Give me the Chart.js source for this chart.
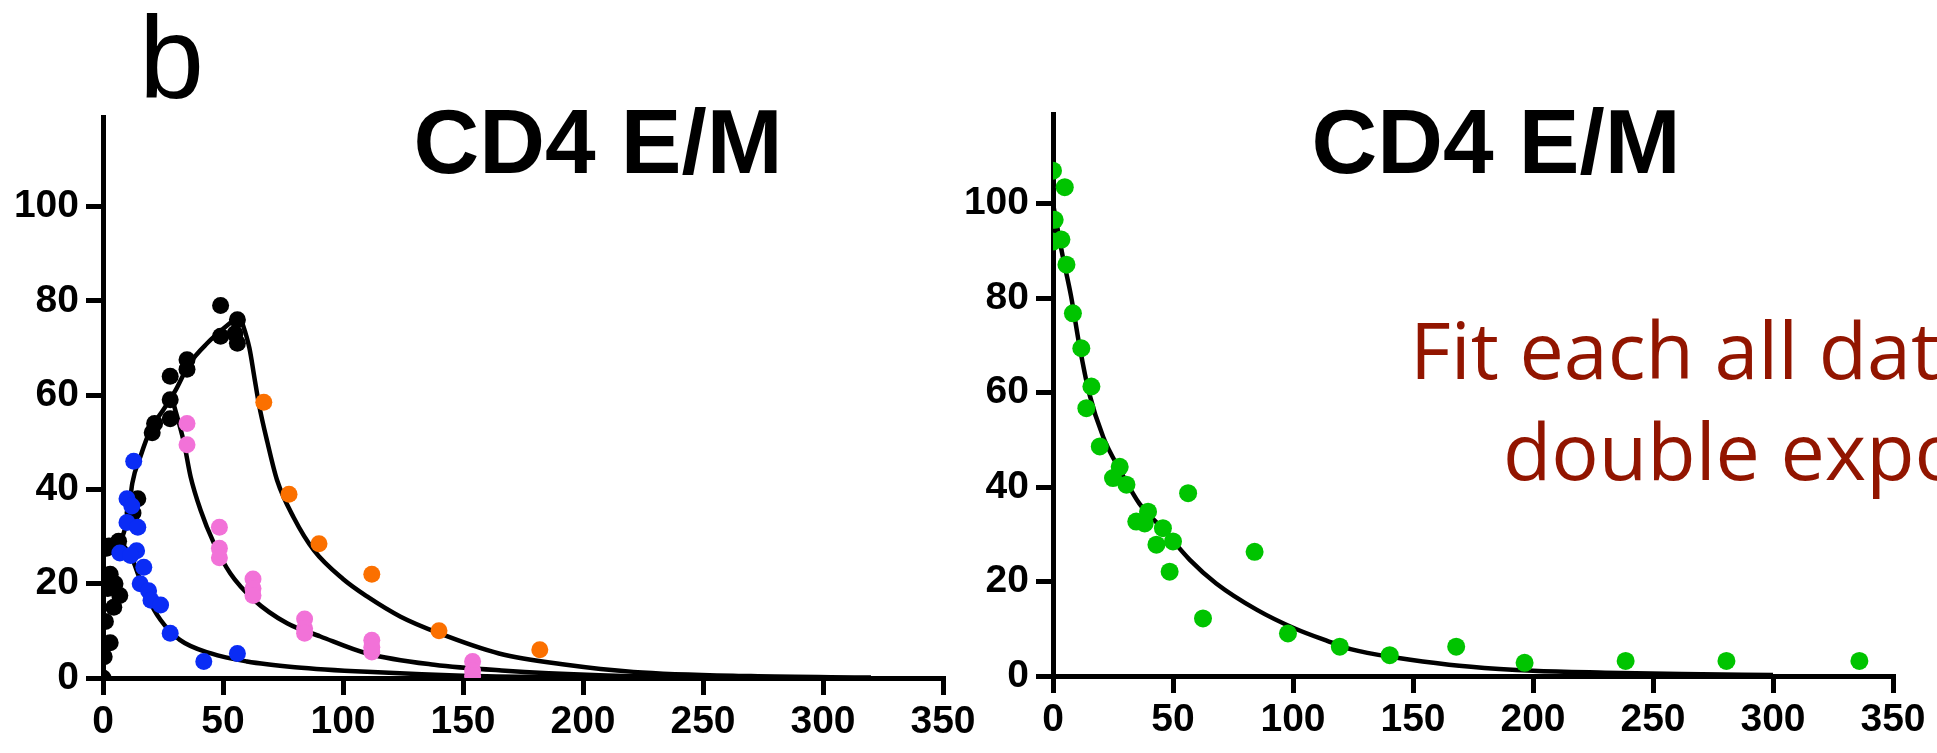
<!DOCTYPE html>
<html>
<head>
<meta charset="utf-8">
<script src="https://cdn.jsdelivr.net/npm/chart.js@4.4.1/dist/chart.umd.min.js"></script>
<style>
  html, body { margin: 0; padding: 0; background: #fff; overflow: hidden; }
  #wrap { position: relative; width: 1937px; height: 753px; }
  canvas { position: absolute; top: 0; }
  #left { left: 0; }
  #right { left: 940px; }
</style>
</head>
<body>
<div id="wrap">
  <canvas id="left" width="1000" height="753"></canvas>
  <canvas id="right" width="997" height="753"></canvas>
</div>
<script>
// ticks
const xTicks = [0, 50, 100, 150, 200, 250, 300, 350];
const yTicks = [0, 20, 40, 60, 80, 100];

// panel 1 : points [x, y]
const blackPts = [[0,0],[0.5,4.5],[3,7.5],[1,12],[4.5,15],[7,17.5],[5,20],[3,22],[2,19],[1.5,27.5],[6.5,29],[2.5,28],
  [12.5,35],[14.5,38],[20.5,52],[21.5,54],[28,55],[28,59],[28,64],[35,65.5],[35,67.5],[49,72.5],[49,79],[56,71],[56,76],[55,73]];
const bluePts = [[12.8,46],[10,38],[12,36.5],[10,33],[14.5,32],[7,26.5],[14,27],[11.5,26],[17,23.5],[15.5,20],[19,18.5],
  [20,16.5],[24,15.5],[28,9.5],[42,3.5],[56,5.2]];
const pinkPts = [[35,54],[35,49.5],[48.5,32],[48.5,27.5],[48.5,25.5],[62.5,21],[62.5,19],[62.5,17.5],[84,12.5],[84,10.5],
  [84,9.5],[112,8],[112,6.5],[112,5.5],[154,3.5],[154,1.5],[154,0.5]];
const orangePts = [[67,58.5],[77.5,39],[90,28.5],[112,22],[140,10],[182,6]];

// panel 1 : fitted curves
const blackFit = [[0,27.5],[8,30],[10.8,35.7],[12.2,41.3],[15.6,47],[19.8,52.7],[25.3,57],[30.2,61],[35.8,66.5],[43.4,71],[57,77]];
const orangeFit = [[57,77],[61,70],[63,64],[65,58],[68.5,50],[72.5,42],[79.5,34],[88,27],[100,21],[110,17.3],[124,13],
  [140,9.5],[165,5.2],[193,2.8],[221,1.3],[270,0.4],[320,0.1]];
const pinkFit = [[29.5,58],[33.7,50],[36.5,42.7],[40.6,35.7],[46.2,28.6],[53,22.2],[62.8,16.6],[76.7,11.6],[90.6,8.8],
  [110,5.2],[138,2.8],[166,1.6],[207,0.6],[260,0.15]];
const blueFit = [[8,28.5],[12,25.5],[15,21.5],[18.4,17.3],[24,12.3],[32,8.1],[45,5.2],[60,3.5],[80,2.3],[110,1.3],[150,0.5],[200,0.15]];

// panel 2
const greenPts = [[0,107],[4.9,103.5],[0.7,96.6],[0,92],[3.5,92.4],[5.6,87.1],[8.3,76.8],[11.8,69.4],[16,61.3],[13.9,56.7],
  [19.5,48.6],[27.8,44.3],[25,41.9],[30.6,40.5],[56.3,38.7],[39.6,34.8],[34.7,32.7],[38.2,32.3],[45.8,31.3],[50,28.5],
  [43.1,27.8],[48.6,22.1],[84,26.3],[62.5,12.2],[97.9,9],[119.5,6.2],[140.3,4.4],[168,6.2],[196.5,2.8],[238.6,3.2],
  [280.6,3.2],[336,3.2]];
const greenFit = [[0,100],[4,89],[7.5,80.5],[11,70],[15,60],[21,50.5],[28,43.5],[36,36.5],[46,31],[57,24.6],[68,19.6],
  [85,14],[101,10],[115,7.3],[124,5.7],[144,3.8],[165,2.4],[186,1.5],[200,1.1],[230,0.7],[262,0.4],[300,0.2]];

const panelTitle = "CD4 E/M";
const panelLetter = "b";
const noteLines = ["Fit each all data", "double exponential"];

const toXY = arr => arr.map(p => ({ x: p[0], y: p[1] }));
const TICK_FONT = { family: "'Liberation Sans', Arial, sans-serif", size: 39, weight: "bold" };

function pts(data, color, r) {
  return { type: "scatter", data: toXY(data), backgroundColor: color, borderColor: color,
    pointRadius: r, pointHoverRadius: r, borderWidth: 0, showLine: false };
}
function fit(data) {
  return { type: "line", data: toXY(data), borderColor: "#000", borderWidth: 4.5, pointRadius: 0,
    fill: false, cubicInterpolationMode: "monotone" };
}

function axes(yWidth, xHeight) {
  const grid = { display: true, drawOnChartArea: false, drawTicks: true, tickLength: 17, lineWidth: 5, color: "#000" };
  return {
    x: {
      type: "linear", min: 0, max: 350,
      afterBuildTicks: a => { a.ticks = xTicks.map(v => ({ value: v })); },
      afterFit: s => { s.height = xHeight; },
      ticks: { font: TICK_FONT, color: "#000", padding: 4, maxRotation: 0 },
      grid: grid, border: { display: true, width: 5, color: "#000" }
    },
    y: {
      type: "linear", min: 0, max: 119,
      afterBuildTicks: a => { a.ticks = yTicks.map(v => ({ value: v })); },
      afterFit: s => { s.width = yWidth; },
      ticks: { font: TICK_FONT, color: "#000", padding: 7 },
      grid: grid, border: { display: true, width: 5, color: "#000" }
    }
  };
}

// plain text drawn on top of each panel
function textLayer(items) {
  return {
    id: "textLayer",
    afterDraw(chart) {
      const ctx = chart.ctx;
      ctx.save();
      items.forEach(t => {
        ctx.font = t.font;
        ctx.fillStyle = t.color;
        ctx.textAlign = t.align;
        ctx.textBaseline = "alphabetic";
        ctx.fillText(t.text, t.x, t.y);
      });
      ctx.restore();
    }
  };
}

const common = {
  responsive: false, animation: false, devicePixelRatio: 1,
  plugins: { legend: { display: false }, tooltip: { enabled: false }, title: { display: false } }
};

new Chart(document.getElementById("left"), {
  type: "scatter",
  data: { datasets: [
    pts(bluePts, "#0a2cf5", 8.5), pts(pinkPts, "#f272d8", 8.5), pts(orangePts, "#fb7000", 8.5), pts(blackPts, "#000", 8.5),
    fit(blackFit), fit(orangeFit), fit(pinkFit), fit(blueFit)
  ] },
  options: Object.assign({}, common, {
    layout: { padding: { left: 0, right: 57, top: 117, bottom: 0 } },
    scales: axes(103, 75)
  }),
  plugins: [textLayer([
    { text: panelLetter, x: 139, y: 98, font: "117px 'Liberation Sans', Arial, sans-serif", color: "#000", align: "left" },
    { text: panelTitle, x: 598, y: 173, font: "bold 91px 'Liberation Sans', Arial, sans-serif", color: "#000", align: "center" }
  ])]
});

new Chart(document.getElementById("right"), {
  type: "scatter",
  data: { datasets: [ pts(greenPts, "#00c400", 9), fit(greenFit) ] },
  options: Object.assign({}, common, {
    layout: { padding: { left: 0, right: 44, top: 114, bottom: 0 } },
    scales: axes(113, 77)
  }),
  plugins: [textLayer([
    { text: panelTitle, x: 556, y: 173, font: "bold 91px 'Liberation Sans', Arial, sans-serif", color: "#000", align: "center" },
    { text: noteLines[0], x: 470, y: 379, font: "500 79px 'Comic Sans MS', 'Open Sans', sans-serif", color: "#921500", align: "left" },
    { text: noteLines[1], x: 563, y: 480, font: "500 79px 'Comic Sans MS', 'Open Sans', sans-serif", color: "#921500", align: "left" }
  ])]
});
</script>
</body>
</html>
